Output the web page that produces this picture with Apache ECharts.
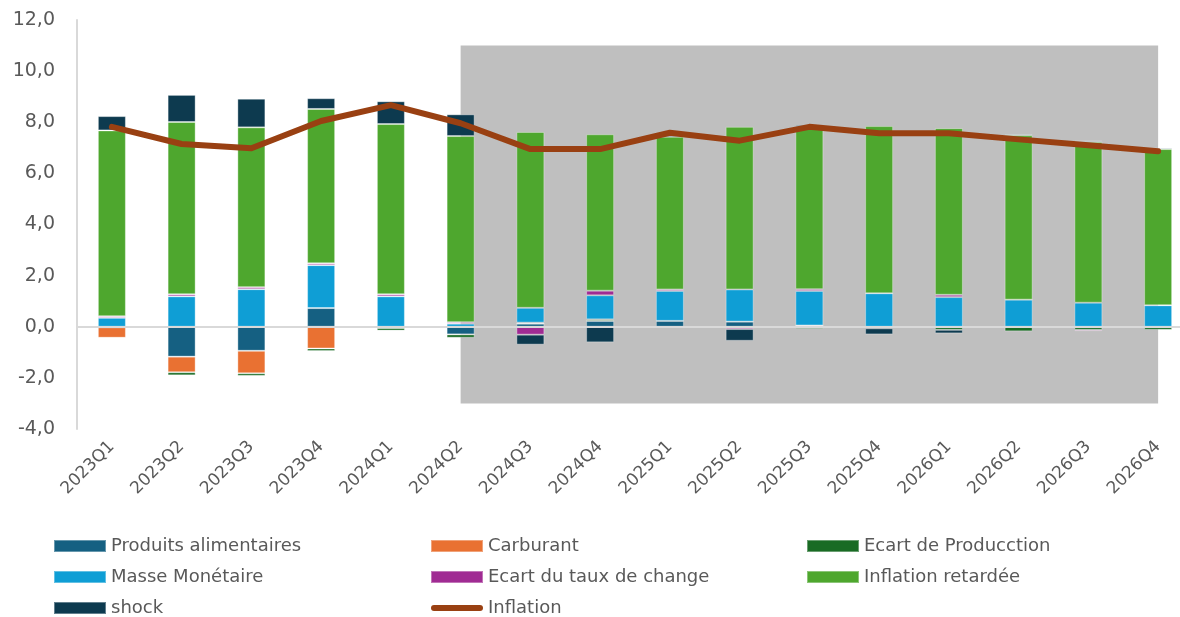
<!DOCTYPE html>
<html>
<head>
<meta charset="utf-8">
<script src="https://cdn.jsdelivr.net/npm/echarts@6/dist/echarts.min.js"></script>
<style>html,body{margin:0;padding:0;background:#fff;overflow:hidden}#c{width:1193px;height:617px}</style>
</head>
<body>
<div id="c"></div>
<script>
const categories = ['2023Q1','2023Q2','2023Q3','2023Q4','2024Q1','2024Q2','2024Q3','2024Q4','2025Q1','2025Q2','2025Q3','2025Q4','2026Q1','2026Q2','2026Q3','2026Q4'];
const produitsAlimentaires = [-0.02,-1.17,-0.94,0.73,-0.05,-0.30,0.12,0.23,0.23,0.20,0.05,0,0,0,0,0];
const carburant = [-0.41,-0.61,-0.88,-0.85,0,0,0,0,0,0,0,0,0,0,0,0];
const ecartProduction = [-0.03,-0.12,-0.10,-0.10,-0.10,-0.13,0.04,0.06,-0.02,-0.02,-0.08,-0.06,-0.12,-0.18,-0.12,-0.12];
const masseMonetaire = [0.35,1.19,1.47,1.68,1.19,0.12,0.58,0.94,1.17,1.26,1.35,1.31,1.16,1.06,0.94,0.84];
const ecartTauxChange = [0.06,0.08,0.08,0.07,0.08,0.06,-0.31,0.18,0.06,-0.07,0.07,0,0.09,0,-0.05,0];
const inflationRetardee = [7.27,6.74,6.25,6.04,6.66,7.28,6.88,6.12,5.97,6.36,6.35,6.54,6.52,6.43,6.29,6.11];
const shock = [0.56,1.06,1.12,0.42,0.89,0.85,-0.39,-0.61,0.15,-0.46,0.07,-0.24,-0.14,0.05,0.05,0.05];
const inflation = [7.82,7.15,6.98,8.05,8.67,7.96,6.95,6.95,7.59,7.28,7.82,7.57,7.57,7.33,7.10,6.87];
const yTicks = {min:-4, max:12, interval:2};
const forecastStart = '2024Q2', forecastEnd = '2026Q4';

const FONT = 'DejaVu Sans';
const TXT = '#595959';
const barDefs = [
  ['Produits alimentaires', produitsAlimentaires, '#156082'],
  ['Carburant', carburant, '#E97132'],
  ['Ecart de Producction', ecartProduction, '#196B24'],
  ['Masse Monétaire', masseMonetaire, '#0F9ED5'],
  ['Ecart du taux de change', ecartTauxChange, '#A02B93'],
  ['Inflation retardée', inflationRetardee, '#4EA72E'],
  ['shock', shock, '#0D3A4F']
];
const series = [{
  name: 'bg', type: 'line', data: categories.map(()=>null), z: 0, silent: true,
  markArea: { silent: true, z: 0, itemStyle: {color:'#BFBFBF'},
    data: [[{xAxis: forecastStart, yAxis: 11},{xAxis: forecastEnd, yAxis: -3}]] }
}];
barDefs.forEach(([name, data, color]) => {
  series.push({ name, type:'bar', stack:'tot', data, barWidth: 28, z: 2,
    itemStyle:{color, borderColor:'rgba(255,255,255,0.35)', borderWidth:1}, emphasis:{disabled:true} });
});
series.push({ name:'Inflation', type:'line', data: inflation, symbol:'none', z: 6,
  lineStyle:{color:'#994012', width:6, cap:'round', join:'round'}, itemStyle:{color:'#994012'},
  markLine:{ silent:true, symbol:['none','none'], z: 5, label:{show:false},
    lineStyle:{color:'#D9D9D9', width:2, type:'solid'}, data:[{yAxis:0}] }
});
const legendBase = { orient:'vertical', itemWidth:52, itemHeight:12, itemGap:13, top:537, padding:0, height:90,
  textStyle:{fontFamily:FONT, fontSize:18, color:TXT, lineHeight:18}, icon:'rect', selectedMode:false };
const option = {
  animation:false,
  textStyle:{fontFamily:FONT},
  grid:{left:77, right:0, top:20, bottom:188, containLabel:false},
  xAxis:{ type:'category', data:categories, axisLine:{show:false}, axisTick:{show:false},
    axisLabel:{rotate:45, fontFamily:FONT, fontSize:17, color:TXT, margin:15}},
  yAxis:{ type:'value', min:yTicks.min, max:yTicks.max, interval:yTicks.interval,
    axisLine:{show:true, lineStyle:{color:'#D9D9D9', width:2}}, axisTick:{show:false}, splitLine:{show:false},
    axisLabel:{fontFamily:FONT, fontSize:19, color:TXT, margin:22, formatter:v=>v.toFixed(1).replace('.',',')}},
  legend:[
    Object.assign({}, legendBase, {left:53, data:['Produits alimentaires','Masse Monétaire','shock']}),
    Object.assign({}, legendBase, {left:430, data:['Carburant','Ecart du taux de change',{name:'Inflation', icon:'path://M3,0 L49,0 A3,3 0 0 1 49,6 L3,6 A3,3 0 0 1 3,0 Z'}]}),
    Object.assign({}, legendBase, {left:806, data:['Ecart de Producction','Inflation retardée']})
  ],
  series
};
const chart = echarts.init(document.getElementById('c'), null, {renderer:'canvas'});
chart.setOption(option);
</script>
</body>
</html>
